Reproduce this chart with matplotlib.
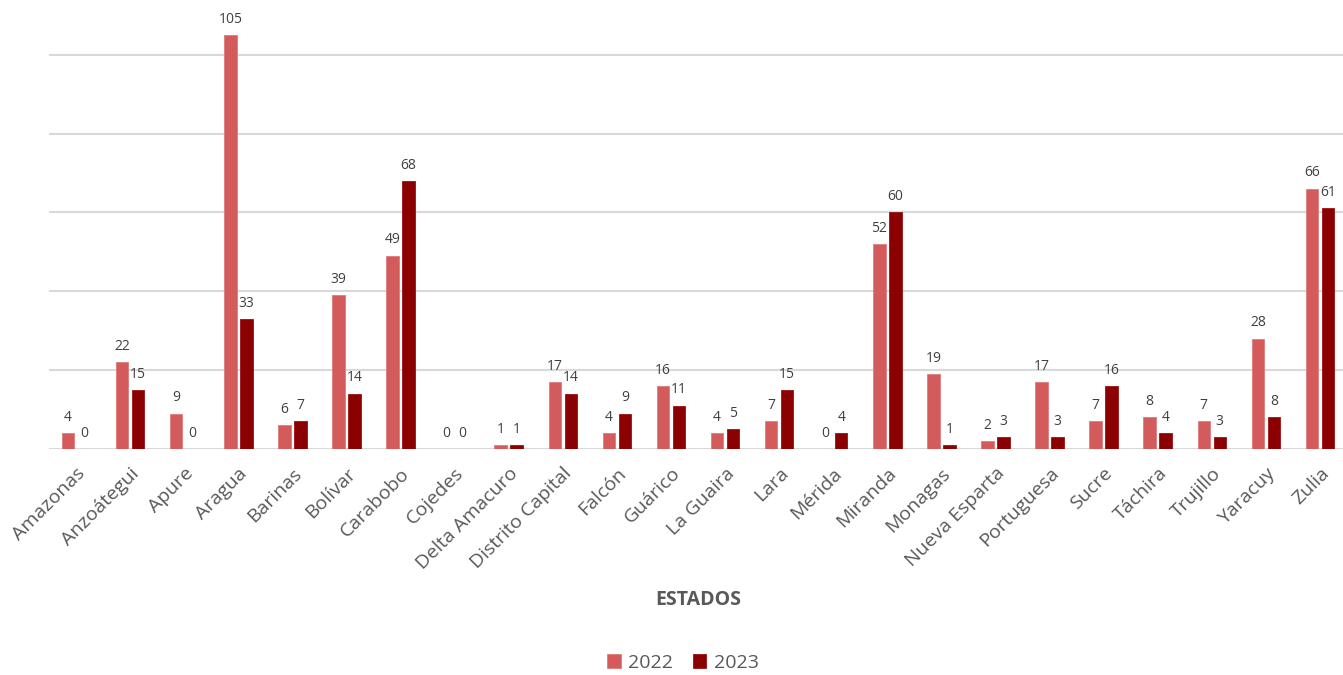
import matplotlib.pyplot as plt
import numpy as np

plt.rcParams.update({
    "font.family": ["Open Sans", "DejaVu Sans"],
})

estados = ["Amazonas", "Anzoátegui", "Apure", "Aragua", "Barinas", "Bolívar",
           "Carabobo", "Cojedes", "Delta Amacuro", "Distrito Capital", "Falcón",
           "Guárico", "La Guaira", "Lara", "Mérida", "Miranda", "Monagas",
           "Nueva Esparta", "Portuguesa", "Sucre", "Táchira", "Trujillo",
           "Yaracuy", "Zulia"]
v2022 = [4, 22, 9, 105, 6, 39, 49, 0, 1, 17, 4, 16, 4, 7, 0, 52, 19, 2, 17, 7, 8, 7, 28, 66]
v2023 = [0, 15, 0, 33, 7, 14, 68, 0, 1, 14, 9, 11, 5, 15, 4, 60, 1, 3, 3, 16, 4, 3, 8, 61]
years = ["2022", "2023"]

c22, c23 = "#D35B5B", "#8B0000"
txt = "#404040"

W, H = 1343, 675
fig = plt.figure(figsize=(W / 100, H / 100), dpi=100)
ax = fig.add_axes([49 / W, (H - 449) / H, 1298 / W, 449 / H])

x = np.arange(len(estados))
bw, off = 0.23, 0.148
b1 = ax.bar(x - off, v2022, bw, color=c22, edgecolor="#E07A7A", lw=0.6, label=years[0], zorder=3)
b2 = ax.bar(x + off, v2023, bw, color=c23, edgecolor="#9A1010", lw=0.6, label=years[1], zorder=3)

for bars, vals in ((b1, v2022), (b2, v2023)):
    for r, v in zip(bars, vals):
        ax.annotate(str(v), (r.get_x() + r.get_width() / 2, v), xytext=(0, 6),
                    textcoords="offset points", ha="center", va="bottom",
                    fontsize=10, color=txt)

ax.set_xlim(-0.5, len(estados) - 0.5)
ax.set_ylim(0, 449 / 3.943)
ax.set_yticks([0, 20, 40, 60, 80, 100])
ax.yaxis.grid(True, color="#D9D9D9", lw=1.5, zorder=0)
ax.tick_params(axis="y", left=False, labelleft=False)
ax.tick_params(axis="x", length=0, pad=11)
for s in ax.spines.values():
    s.set_visible(False)

ax.set_xticks(x)
ax.set_xticklabels(estados, rotation=45, ha="right", rotation_mode="anchor",
                   fontsize=14, color="#595959")

fig.text(698 / W, 1 - 600 / H, "ESTADOS", ha="center", va="center",
         fontsize=14, fontweight="bold", color="#595959")
fig.legend(handles=[b1, b2], labels=years, loc="center", bbox_to_anchor=(683 / W, 1 - 663 / H),
           ncol=2, frameon=False, fontsize=14, handlelength=0.7, handleheight=0.7,
           handletextpad=0.4, columnspacing=1.0, labelcolor="#595959")

fig.savefig("out.png", dpi=100)
